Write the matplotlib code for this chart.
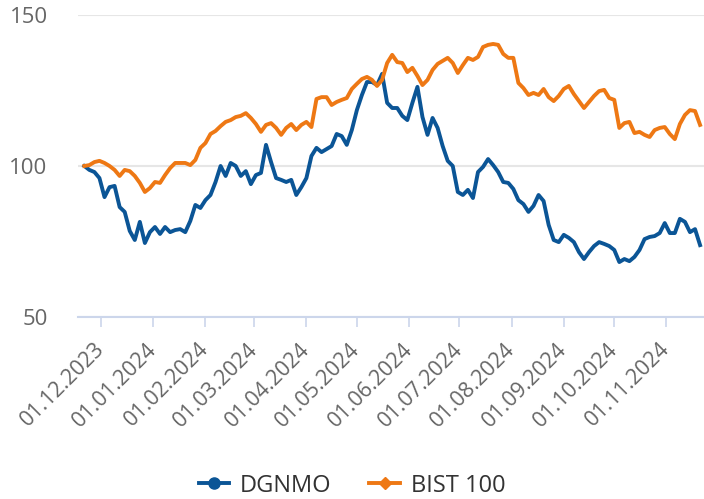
import pandas as pd
import numpy as np
import matplotlib
matplotlib.use('Agg')
import matplotlib.pyplot as plt
import matplotlib.dates as mdates
from matplotlib.lines import Line2D

plt.rcParams['font.family'] = ['Open Sans', 'DejaVu Sans']

# Degerler (baslangic = 100), 3 gunluk adimlarla
dates = pd.date_range('2023-11-21', periods=123, freq='3D')

dgnmo = [100.0, 98.7, 98.0, 96.0, 89.7, 93.0, 93.4, 86.4, 84.8, 78.5,
         75.5, 81.5, 74.5, 78.1, 79.8, 77.5, 79.8, 78.1, 78.8, 79.1,
         78.1, 81.8, 87.1, 86.1, 88.7, 90.4, 94.7, 100.0, 96.7, 101.0,
         100.0, 96.7, 98.3, 94.0, 97.0, 97.7, 107.0, 101.3, 96.0, 95.4,
         94.7, 95.4, 90.4, 93.0, 96.0, 103.3, 106.0, 104.6, 105.6, 106.6,
         110.6, 109.9, 107.0, 111.9, 118.5, 123.5, 127.8, 127.8, 126.8, 130.5,
         120.9, 119.2, 119.2, 116.6, 115.2, 120.9, 126.2, 116.2, 110.3, 115.9,
         112.6, 106.6, 101.7, 100.0, 91.4, 90.4, 92.1, 89.4, 98.0, 99.7,
         102.3, 100.3, 98.0, 94.7, 94.4, 92.4, 88.7, 87.4, 84.8, 86.8,
         90.4, 88.4, 80.5, 75.5, 74.8, 77.2, 76.2, 74.8, 71.5, 69.2,
         71.5, 73.5, 74.8, 74.2, 73.5, 72.2, 68.2, 69.2, 68.5, 69.9,
         72.2, 75.8, 76.5, 76.8, 77.8, 81.1, 77.8, 77.8, 82.5, 81.5,
         78.1, 79.1, 73.8]

bist100 = [100.0, 100.3, 101.3, 101.7, 101.0, 100.0, 98.7, 96.7, 98.7, 98.3,
           96.7, 94.4, 91.4, 92.7, 94.7, 94.4, 97.0, 99.3, 101.0, 101.0,
           101.0, 100.3, 102.0, 106.0, 107.6, 110.6, 111.6, 113.2, 114.6, 115.2,
           116.2, 116.6, 117.5, 115.9, 113.9, 111.3, 113.6, 114.2, 112.6, 110.3,
           112.6, 113.9, 111.9, 113.6, 114.6, 112.9, 122.2, 122.8, 122.8, 120.2,
           121.2, 121.9, 122.5, 125.5, 127.2, 128.8, 129.5, 128.5, 126.5, 128.5,
           134.1, 136.8, 134.4, 134.1, 131.1, 132.5, 129.8, 126.8, 128.5, 131.8,
           133.8, 134.8, 135.8, 134.1, 130.8, 133.4, 135.8, 135.1, 136.1, 139.4,
           140.1, 140.4, 140.1, 137.1, 135.8, 135.8, 127.5, 125.8, 123.5, 124.2,
           123.5, 125.5, 122.8, 121.5, 123.2, 125.5, 126.5, 123.8, 121.5, 119.2,
           121.2, 123.2, 124.8, 125.2, 122.5, 121.9, 112.6, 114.2, 114.6, 110.9,
           111.3, 110.3, 109.6, 111.9, 112.6, 112.9, 110.6, 108.9, 113.9, 116.9,
           118.5, 118.2, 113.6]

series_names = ['DGNMO', 'BIST 100']
colors = ['#0b5596', '#ee7814']
y_ticks = [50, 100, 150]

fig = plt.figure(figsize=(7.04, 4.99), dpi=100)
ax = fig.add_axes([0.111, 0.3647, 0.889, 0.6053])

ax.plot(dates, dgnmo, color=colors[0], lw=2.8, solid_joinstyle='round', zorder=3)
ax.plot(dates, bist100, color=colors[1], lw=2.8, solid_joinstyle='round', zorder=4)

ax.set_ylim(50, 150)
ax.set_xlim(pd.Timestamp('2023-11-17 08:00'), pd.Timestamp('2024-11-23 08:00'))
ax.set_yticks(y_ticks)
ax.grid(axis='y', color='#e6e6e6', lw=1.5)
ax.set_axisbelow(True)

for s in ['top', 'right', 'left']:
    ax.spines[s].set_visible(False)
ax.spines['bottom'].set_color('#ccd6eb')
ax.spines['bottom'].set_linewidth(1.5)

ax.xaxis.set_major_locator(mdates.MonthLocator(bymonthday=1))
ax.xaxis.set_major_formatter(mdates.DateFormatter('%d.%m.%Y'))
ax.tick_params(axis='x', colors='#ccd6eb', length=7, width=1.2, pad=14,
               labelcolor='#666666', labelsize=15.5)
ax.tick_params(axis='y', length=0, pad=22, labelcolor='#666666', labelsize=16)
for lbl in ax.get_xticklabels():
    lbl.set_rotation(45)
    lbl.set_ha('right')
    lbl.set_va('center')
    lbl.set_rotation_mode('anchor')

handles = [Line2D([], [], color=colors[0], lw=2.8, marker='o', markersize=8),
           Line2D([], [], color=colors[1], lw=2.8, marker='D', markersize=6.5)]
fig.legend(handles, series_names, loc='center', bbox_to_anchor=(0.5, 0.027),
           ncol=2, frameon=False, fontsize=17, handlelength=1.3,
           handletextpad=0.45, columnspacing=1.6, labelcolor='#333333')

fig.savefig('out.png', dpi=100)
